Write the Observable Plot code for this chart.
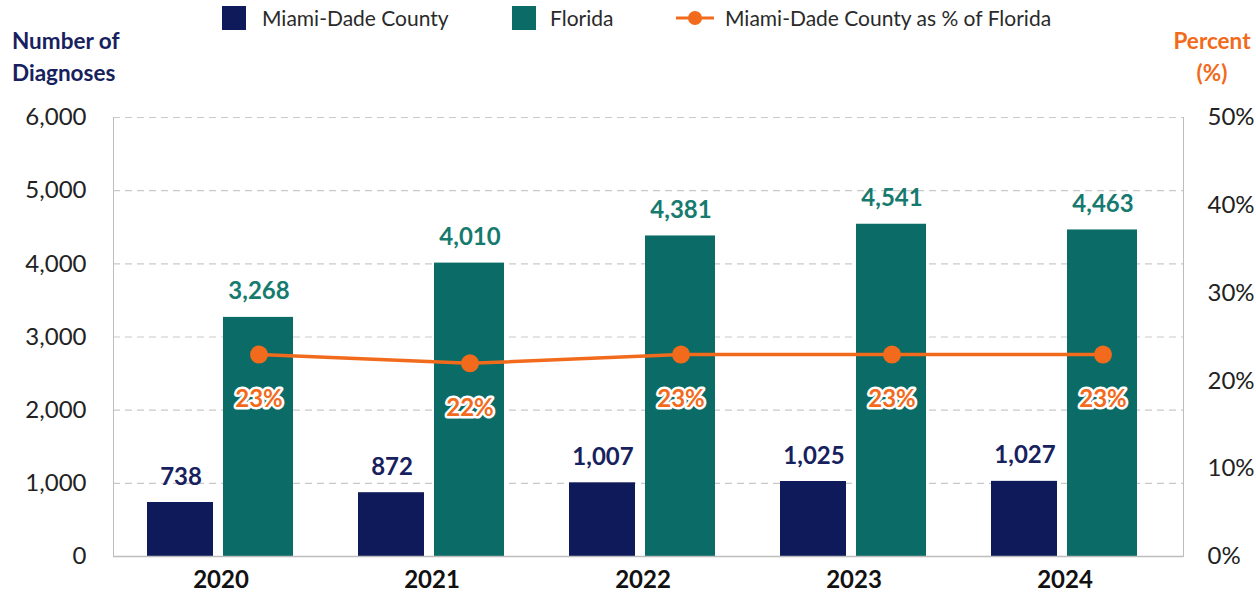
<!DOCTYPE html>
<html>
<head>
<meta charset="utf-8">
<script src="https://cdn.jsdelivr.net/npm/d3@7"></script>
<script src="https://cdn.jsdelivr.net/npm/@observablehq/plot@0.6"></script>
<style>
  html, body { margin: 0; padding: 0; background: #fff; }
  #wrap { position: relative; width: 1256px; height: 598px; font-family: Lato, "Open Sans", sans-serif; }
  .abs { position: absolute; white-space: nowrap; }
  .sw { position: absolute; width: 24px; height: 24px; }
  .lg { position: absolute; top: 6px; font-size: 21px; line-height: 24px; color: #2a2a2a; white-space: nowrap; }
  .ttl { position: absolute; font-size: 22.5px; font-weight: 700; line-height: 32px; white-space: nowrap; }
</style>
</head>
<body>
<div id="wrap">
  <div id="chart"></div>
  <div class="sw" style="left:222px; top:6px; background:#0f1a5a;"></div>
  <div class="lg" style="left:262px;">Miami-Dade County</div>
  <div class="sw" style="left:512px; top:6px; background:#0b6b66;"></div>
  <div class="lg" style="left:550px;">Florida</div>
  <svg class="abs" style="left:676px; top:6px;" width="38" height="24">
    <line x1="0" y1="12" x2="38" y2="12" stroke="#f26a1b" stroke-width="3"/>
    <circle cx="19" cy="12" r="7" fill="#f26a1b"/>
  </svg>
  <div class="lg" style="left:725px;">Miami-Dade County as % of Florida</div>
  <div class="ttl" style="left:12px; top:25px; color:#17215e;">Number of<br>Diagnoses</div>
  <div class="ttl" style="left:1160px; top:25px; width:104px; text-align:center; color:#f26a1b;">Percent<br>(%)</div>
</div>
<script>
const years = ["2020", "2021", "2022", "2023", "2024"];
const miamiDade = [738, 872, 1007, 1025, 1027];
const florida = [3268, 4010, 4381, 4541, 4463];
const percentOfFlorida = [23, 22, 23, 23, 23];
const countTicks = [0, 1000, 2000, 3000, 4000, 5000, 6000];
const percentTicks = [0, 10, 20, 30, 40, 50];

const navy = "#0f1a5a";
const teal = "#0b6b66";
const orange = "#f26a1b";
const pctToCount = 6000 / 50; // right axis: 50% aligns with 6,000

const data = years.map((year, i) => ({
  year,
  miami: miamiDade[i],
  florida: florida[i],
  pct: percentOfFlorida[i]
}));

const fmt = d3.format(",");

const chart = Plot.plot({
  width: 1256,
  height: 598,
  marginTop: 117,
  marginBottom: 42,
  marginLeft: 113,
  marginRight: 73,
  style: { fontFamily: "Lato, 'Open Sans', sans-serif", background: "transparent" },
  x: { type: "band", domain: years, range: [115, 1170], padding: 0 },
  y: { domain: [0, 6000] },
  marks: [
    Plot.ruleY(countTicks.filter(d => d > 0), { stroke: "#c9c9c9", strokeDasharray: "7,5", strokeWidth: 1.2 }),
    Plot.frame({ anchor: "left", stroke: "#bdbdbd" }),
    Plot.frame({ anchor: "right", stroke: "#bdbdbd" }),
    Plot.barY(data, { x: "year", y: "miami", fill: navy, insetLeft: 32, insetRight: 113 }),
    Plot.barY(data, { x: "year", y: "florida", fill: teal, insetLeft: 108, insetRight: 33 }),
    Plot.ruleY([0], { stroke: "#bdbdbd", strokeWidth: 1.5 }),
    Plot.text(data, { x: "year", y: "miami", text: d => fmt(d.miami), dx: -40, dy: -18, lineAnchor: "bottom", fill: "#17215e", fontSize: 24, fontWeight: 700 }),
    Plot.text(data, { x: "year", y: "florida", text: d => fmt(d.florida), dx: 38, dy: -18, lineAnchor: "bottom", fill: "#167a6f", fontSize: 24, fontWeight: 700 }),
    Plot.line(data, { x: "year", y: d => d.pct * pctToCount, dx: 38, stroke: orange, strokeWidth: 3.5 }),
    Plot.dot(data, { x: "year", y: d => d.pct * pctToCount, dx: 38, r: 9, fill: orange }),
    Plot.text(data, { x: "year", y: d => d.pct * pctToCount, dx: 38, dy: 45, text: d => d.pct + "%", fill: orange, stroke: "white", strokeWidth: 5, paintOrder: "stroke", fontSize: 24, fontWeight: 700 }),
    Plot.axisY(countTicks, { anchor: "left", tickSize: 0, tickPadding: 27, fontSize: 24, tickFormat: fmt, label: null, color: "#222" }),
    Plot.axisY(percentTicks.map(d => d * pctToCount), { anchor: "right", tickSize: 0, tickPadding: 24, fontSize: 24, tickFormat: d => Math.round(d / pctToCount) + "%", label: null, color: "#222" }),
    Plot.axisX(years, { tickSize: 0, tickPadding: 14, fontSize: 24, fontWeight: 700, label: null, color: "#111" })
  ]
});
document.getElementById("chart").appendChild(chart);
</script>
</body>
</html>
